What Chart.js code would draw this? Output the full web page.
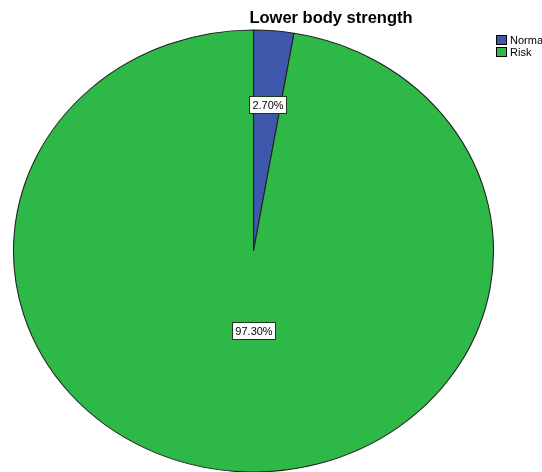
<!DOCTYPE html>
<html>
<head>
<meta charset="utf-8">
<script src="https://cdn.jsdelivr.net/npm/chart.js@4/dist/chart.umd.min.js"></script>
<style>
html,body{margin:0;padding:0;background:#fff;}
#wrap{position:relative;width:542px;height:472px;}
</style>
</head>
<body>
<div id="wrap"><canvas id="c" width="542" height="472"></canvas></div>
<script>
const chartTitle = 'Lower body strength';
const categories = ['Normal', 'Risk'];
const values = [2.7, 97.3];
const valueLabels = ['2.70%', '97.30%'];
const colors = ['#3E58AC', '#2EB848'];

const FONT = '"Liberation Sans", Arial, sans-serif';
const RX = 240, RY = 221;
const labelRadius = [0.667, 0.36];
const labelAngleShift = [0, -0.085];

const ellipsePlugin = {
  id: 'ellipse',
  beforeDatasetsDraw(chart) {
    const a = chart.getDatasetMeta(0).data[0];
    const ctx = chart.ctx;
    ctx.save();
    ctx.translate(a.x, a.y);
    ctx.scale(RX / a.outerRadius, RY / a.outerRadius);
    ctx.translate(-a.x, -a.y);
  },
  afterDatasetsDraw(chart) {
    const ctx = chart.ctx;
    ctx.restore();
    const meta = chart.getDatasetMeta(0);
    ctx.save();
    ctx.font = '11px ' + FONT;
    ctx.textBaseline = 'middle';
    ctx.textAlign = 'center';
    meta.data.forEach((arc, i) => {
      const mid = (arc.startAngle + arc.endAngle) / 2 + labelAngleShift[i];
      const x = arc.x + Math.cos(mid) * labelRadius[i] * RX;
      const y = arc.y + Math.sin(mid) * labelRadius[i] * RY;
      const t = valueLabels[i];
      const w = Math.round(ctx.measureText(t).width + 6);
      const h = 17;
      const bx = Math.round(x - w / 2) + 0.5, by = Math.round(y - h / 2) + 0.5;
      ctx.fillStyle = '#fff';
      ctx.fillRect(bx, by, w, h);
      ctx.strokeStyle = '#1a3a1a';
      ctx.lineWidth = 1;
      ctx.strokeRect(bx, by, w, h);
      ctx.fillStyle = '#000';
      ctx.fillText(t, bx + w / 2, by + h / 2 + 1);
    });
    ctx.restore();
  },
  afterDraw(chart) {
    const ctx = chart.ctx;
    ctx.save();
    ctx.fillStyle = '#000';
    ctx.font = 'bold 16.5px ' + FONT;
    ctx.textAlign = 'center';
    ctx.textBaseline = 'alphabetic';
    ctx.fillText(chartTitle, 331, 23);
    ctx.font = '11px ' + FONT;
    ctx.textAlign = 'left';
    categories.forEach((c, i) => {
      const y = 35 + i * 12;
      ctx.fillStyle = colors[i];
      ctx.fillRect(496.5, y + 0.5, 10, 9);
      ctx.strokeStyle = '#000';
      ctx.lineWidth = 1;
      ctx.strokeRect(496.5, y + 0.5, 10, 9);
      ctx.fillStyle = '#000';
      ctx.fillText(c, 510, y + 9);
    });
    ctx.restore();
  }
};

new Chart(document.getElementById('c'), {
  type: 'pie',
  data: {
    labels: categories,
    datasets: [{
      data: values,
      backgroundColor: colors,
      borderColor: '#222',
      borderWidth: 1
    }]
  },
  options: {
    responsive: false,
    animation: false,
    events: [],
    layout: { padding: { left: 13, right: 48, top: 30, bottom: 0 } },
    plugins: {
      legend: { display: false },
      title: { display: false },
      tooltip: { enabled: false }
    }
  },
  plugins: [ellipsePlugin]
});
</script>
</body>
</html>
